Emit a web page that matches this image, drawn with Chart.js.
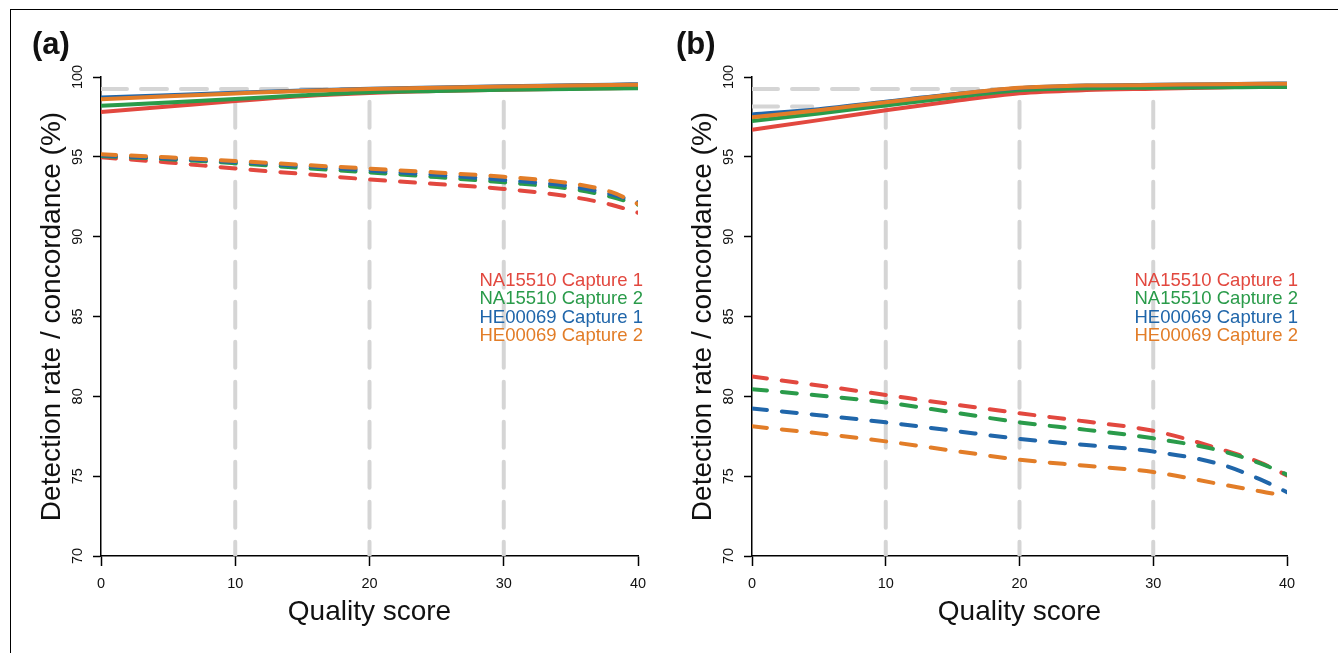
<!DOCTYPE html>
<html><head><meta charset="utf-8">
<script src="https://cdn.jsdelivr.net/npm/chart.js@4"></script>
<style>
html,body{margin:0;padding:0;background:#fff;width:1338px;height:653px;overflow:hidden;position:relative;}
#frame{position:absolute;left:10px;top:9px;width:1400px;height:700px;border-top:1.5px solid #000;border-left:1.5px solid #000;}
canvas{position:absolute;top:0;}
</style></head><body>
<div id="frame"></div>
<canvas id="ca" width="669" height="653" style="left:0"></canvas>
<canvas id="cb" width="669" height="653" style="left:669px"></canvas>
<script>
// ---------- data ----------
const qualities = [0, 5, 10, 15, 20, 25, 30, 35, 38, 40];
const seriesNames = ['NA15510 Capture 1', 'NA15510 Capture 2', 'HE00069 Capture 1', 'HE00069 Capture 2'];
const xTickStep = 10;
const yTickStep = 5;
const yMin = 70, yMax = 100, xMin = 0, xMax = 40;

// panel (a) concordance (solid)
const aConcNA1 = [97.80, 98.15, 98.50, 98.80, 99.00, 99.12, 99.20, 99.27, 99.30, 99.32];
const aConcNA2 = [98.20, 98.40, 98.62, 98.85, 99.05, 99.13, 99.20, 99.25, 99.28, 99.30];
const aConcHE1 = [98.72, 98.86, 99.01, 99.15, 99.27, 99.35, 99.42, 99.48, 99.52, 99.55];
const aConcHE2 = [98.60, 98.80, 98.97, 99.13, 99.25, 99.33, 99.40, 99.46, 99.50, 99.52];
// panel (a) detection rate (dashed)
const aDetNA1 = [94.97, 94.65, 94.27, 93.93, 93.58, 93.30, 92.99, 92.50, 92.00, 91.50];
const aDetNA2 = [95.05, 94.85, 94.60, 94.30, 94.03, 93.73, 93.40, 93.00, 92.50, 92.00];
const aDetHE1 = [95.10, 94.90, 94.68, 94.42, 94.15, 93.87, 93.55, 93.15, 92.65, 92.15];
const aDetHE2 = [95.16, 94.97, 94.74, 94.50, 94.26, 94.02, 93.75, 93.34, 92.80, 92.05];

// panel (b) concordance (solid)
const bConcNA1 = [96.70, 97.30, 97.92, 98.48, 98.98, 99.18, 99.27, 99.35, 99.40, 99.42];
const bConcNA2 = [97.25, 97.72, 98.22, 98.72, 99.17, 99.29, 99.33, 99.36, 99.37, 99.38];
const bConcHE1 = [97.65, 97.98, 98.45, 98.92, 99.30, 99.46, 99.51, 99.55, 99.57, 99.60];
const bConcHE2 = [97.48, 97.92, 98.42, 98.90, 99.32, 99.46, 99.50, 99.55, 99.57, 99.58];
// panel (b) detection rate (dashed)
const bDetNA1 = [81.24, 80.68, 80.09, 79.50, 78.94, 78.42, 77.84, 76.70, 75.85, 75.05];
const bDetNA2 = [80.45, 80.05, 79.62, 79.00, 78.37, 77.90, 77.37, 76.60, 75.80, 75.10];
const bDetHE1 = [79.24, 78.82, 78.37, 77.85, 77.33, 76.95, 76.54, 75.75, 74.80, 74.00];
const bDetHE2 = [78.12, 77.68, 77.18, 76.60, 76.03, 75.65, 75.26, 74.50, 74.05, 73.75];

// grey reference lines
const refQualities = [10, 20, 30];
const refTop = 98.45;
const aGreyLevels = [{ y: 99.25, xEnd: 22 }];
const bGreyLevels = [{ y: 99.25, xEnd: 21 }, { y: 98.15, xEnd: 4.5 }];

// ---------- styles ----------
const seriesColors = ['#e2483f', '#2a9b4a', '#2066aa', '#e27d28'];
const grey = '#d5d5d5';
const FONT = '"Liberation Sans", Arial, Helvetica, sans-serif';

function pts(ys) { return qualities.map((q, i) => ({ x: q, y: ys[i] })); }

function buildDatasets(conc, det, greyLevels) {
  const list = []; // bottom -> top
  refQualities.forEach(q => list.push({
    data: [{ x: q, y: refTop }, { x: q, y: yMin }],
    borderColor: grey, borderWidth: 4, borderDash: [26, 14], borderCapStyle: 'round',
    pointRadius: 0, fill: false, tension: 0
  }));
  greyLevels.forEach(g => list.push({
    data: [{ x: xMin, y: g.y }, { x: g.xEnd, y: g.y }],
    borderColor: grey, borderWidth: 4, borderDash: [26, 14], borderCapStyle: 'round',
    pointRadius: 0, fill: false, tension: 0
  }));
  det.forEach((ys, i) => list.push({
    label: seriesNames[i], data: pts(ys),
    borderColor: seriesColors[i], borderWidth: 4, borderDash: [15, 15], borderCapStyle: 'round',
    pointRadius: 0, fill: false, cubicInterpolationMode: 'monotone'
  }));
  conc.forEach((ys, i) => list.push({
    label: seriesNames[i], data: pts(ys),
    borderColor: seriesColors[i], borderWidth: 4, borderCapStyle: 'butt',
    pointRadius: 0, fill: false, cubicInterpolationMode: 'monotone'
  }));
  const n = list.length;
  list.forEach((d, i) => { d.order = n - i; });
  return list;
}

const sideText = {
  id: 'sideText',
  afterDraw(chart, args, o) {
    const { ctx, chartArea } = chart;
    ctx.save();
    ctx.font = '18.5px ' + FONT;
    ctx.textAlign = 'right';
    ctx.textBaseline = 'alphabetic';
    seriesNames.forEach((name, i) => {
      ctx.fillStyle = seriesColors[i];
      ctx.fillText(name, chartArea.right + o.dx, chartArea.top + 209 + i * 18.3);
    });
    ctx.fillStyle = '#111';
    ctx.font = 'bold 31px ' + FONT;
    ctx.textAlign = 'left';
    ctx.fillText(o.label, o.lx, 54);
    ctx.restore();
  }
};

function makeChart(id, datasets, padLeft, padRight, legendDx, label, labelX) {
  return new Chart(document.getElementById(id), {
    type: 'line',
    data: { datasets },
    plugins: [sideText],
    options: {
      responsive: false, animation: false, devicePixelRatio: 1,
      layout: { padding: { left: padLeft, right: padRight, top: 77, bottom: 0 } },
      plugins: {
        legend: { display: false }, tooltip: { enabled: false },
        sideText: { dx: legendDx, label: label, lx: labelX }
      },
      scales: {
        x: {
          type: 'linear', min: xMin, max: xMax,
          ticks: { stepSize: xTickStep, color: '#111', font: { family: FONT, size: 14.5 }, padding: 9, maxRotation: 0 },
          grid: { drawOnChartArea: false, drawTicks: true, tickLength: 10, tickWidth: 1.5, tickColor: '#000' },
          border: { display: true, color: '#000', width: 1.5 },
          title: { display: true, text: 'Quality score', color: '#111', font: { family: FONT, size: 28 }, padding: { top: 0, bottom: 24 } },
          afterFit(s) { s.height = 97; }
        },
        y: {
          type: 'linear', min: yMin, max: yMax,
          ticks: { stepSize: yTickStep, color: '#111', font: { family: FONT, size: 14.5 }, padding: 3, minRotation: 90, maxRotation: 90, crossAlign: 'center' },
          grid: { drawOnChartArea: false, drawTicks: true, tickLength: 8, tickWidth: 1.5, tickColor: '#000' },
          border: { display: true, color: '#000', width: 1.5 },
          title: { display: true, text: 'Detection rate / concordance (%)', color: '#111', font: { family: FONT, size: 28 }, padding: { top: 4, bottom: 0 } },
          afterFit(s) { s.width = 70; }
        }
      }
    }
  });
}

makeChart('ca', buildDatasets([aConcNA1, aConcNA2, aConcHE1, aConcHE2], [aDetNA1, aDetNA2, aDetHE1, aDetHE2], aGreyLevels), 31, 31, 5, '(a)', 32);
makeChart('cb', buildDatasets([bConcNA1, bConcNA2, bConcHE1, bConcHE2], [bDetNA1, bDetNA2, bDetHE1, bDetHE2], bGreyLevels), 13, 51, 11, '(b)', 7);
</script>
</body></html>
